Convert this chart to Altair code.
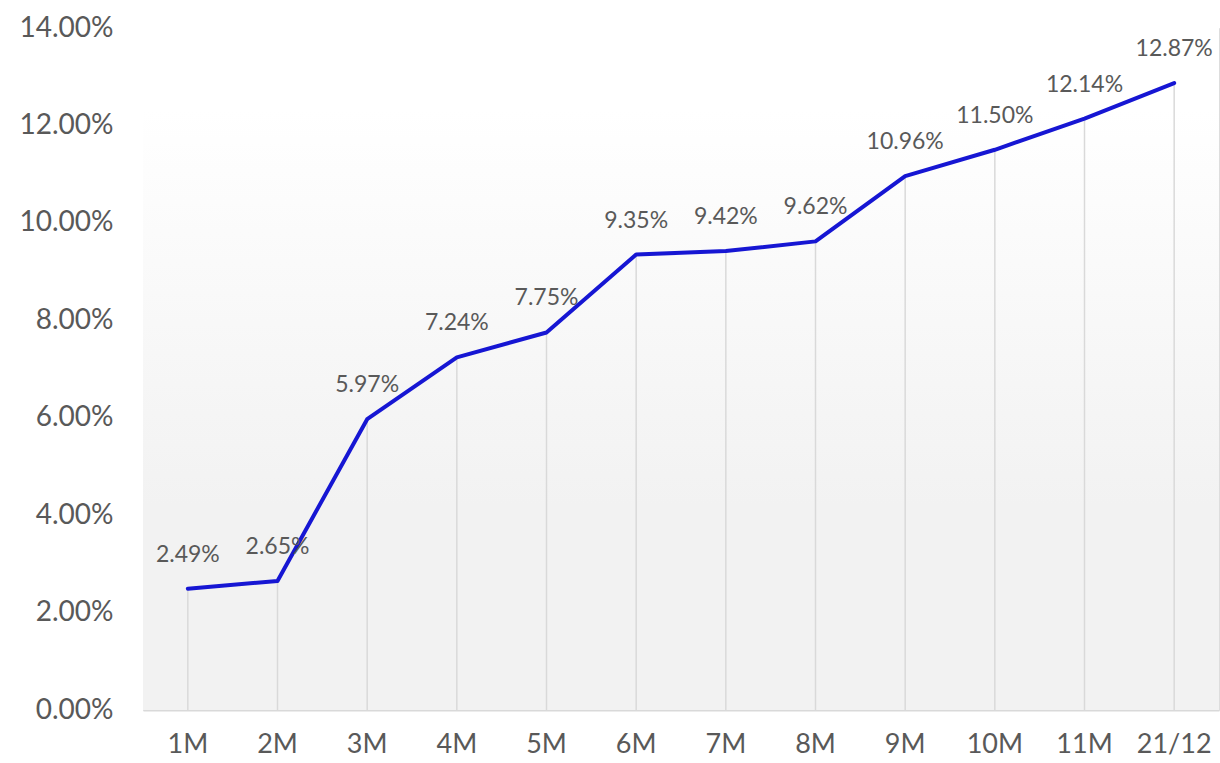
import altair as alt
import pandas as pd

categories = ["1M", "2M", "3M", "4M", "5M", "6M", "7M", "8M", "9M", "10M", "11M", "21/12"]
values = [0.0249, 0.0265, 0.0597, 0.0724, 0.0775, 0.0935, 0.0942, 0.0962, 0.1096, 0.1150, 0.1214, 0.1287]
y_ticks = [0.0, 0.02, 0.04, 0.06, 0.08, 0.10, 0.12, 0.14]

df = pd.DataFrame({"cat": categories, "val": values})
df["zero"] = 0.0

W, H = 1076, 682
FONT = "Lato"
GREY = "#595959"

x_enc = alt.X("cat:N", sort=categories, scale=alt.Scale(paddingInner=0, paddingOuter=0),
              axis=alt.Axis(title=None, ticks=False, domainColor="#d9d9d9", domainWidth=2,
                            labelFontSize=27, labelColor=GREY, labelFont=FONT, labelPadding=21,
                            labelAngle=0, grid=False))
y_scale = alt.Scale(domain=[0, 0.14], nice=False)
y_enc = alt.Y("val:Q", scale=y_scale,
              axis=alt.Axis(title=None, values=y_ticks, format=".2%", domain=False, ticks=False,
                            grid=False, labelFontSize=28, labelColor=GREY, labelFont=FONT,
                            labelPadding=30))

base = alt.Chart(df)

bg = alt.Chart(pd.DataFrame({"a": [1]})).mark_rect(
    color=alt.Gradient(
        gradient="linear",
        stops=[alt.GradientStop(color="#ffffff", offset=0),
               alt.GradientStop(color="#ffffff", offset=0.12),
               alt.GradientStop(color="#f2f2f2", offset=0.7),
               alt.GradientStop(color="#f2f2f2", offset=1)],
        x1=0, x2=0, y1=0, y2=1,
    )
).encode(x=alt.value(0), x2=alt.value(W), y=alt.value(0), y2=alt.value(H))

rules = base.mark_rule(color="#d9d9d9", strokeWidth=1.5).encode(
    x=x_enc, y=y_enc, y2="zero:Q")

line = base.mark_line(color="#1616D3", strokeWidth=4, strokeCap="round", strokeJoin="round").encode(
    x=x_enc, y=y_enc)

labels = base.mark_text(fontSize=23, font=FONT, color=GREY, baseline="middle", dy=-34).encode(
    x=x_enc, y=y_enc, text=alt.Text("val:Q", format=".2%"))

chart = alt.layer(bg, rules, line, labels).properties(
    width=W, height=H,
    padding={"left": 143, "top": 28, "right": 1, "bottom": 53},
    autosize=alt.AutoSizeParams(type="none"),
).configure_view(stroke=None).configure(background="white")

chart.save("out.html", embed_options={"renderer": "svg", "actions": False})
